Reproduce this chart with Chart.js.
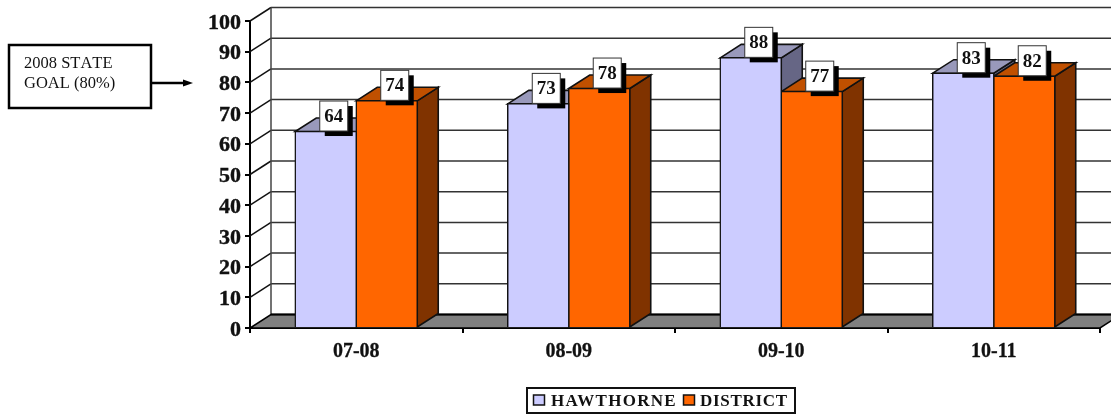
<!DOCTYPE html>
<html lang="en">

<head>
  <meta charset="UTF-8" />
  <title>2008 State Goal</title>
  <script src="https://cdn.jsdelivr.net/npm/chart.js@4/dist/chart.umd.min.js"></script>
  <style>
    html, body { margin: 0; padding: 0; background: #fff; }
    #wrap { position: relative; width: 1111px; height: 415px; overflow: hidden; }
  </style>
</head>

<body>
  <div id="wrap"><canvas id="goalChart" width="1111" height="415"></canvas></div>

  <script>
    const categories = ["07-08", "08-09", "09-10", "10-11"];
    const hawthorne = [64, 73, 88, 83];
    const district = [74, 78, 77, 82];
    const seriesNames = ["HAWTHORNE", "DISTRICT"];
    const goalLines = ["2008 STATE", "GOAL (80%)"];

    const depthX = 21;
    const depthY = 13.5;
    const serif = '"Liberation Serif", "Times New Roman", serif';
    const faces = [
      { front: "#ccccff", top: "#9999bb", side: "#666685" },
      { front: "#ff6600", top: "#c05000", side: "#803300" },
    ];

    function poly(ctx, pts, fill, stroke, width) {
      ctx.beginPath();
      pts.forEach((p, i) => (i ? ctx.lineTo(p[0], p[1]) : ctx.moveTo(p[0], p[1])));
      ctx.closePath();
      if (fill) { ctx.fillStyle = fill; ctx.fill(); }
      if (stroke) { ctx.strokeStyle = stroke; ctx.lineWidth = width; ctx.stroke(); }
    }

    function line(ctx, x1, y1, x2, y2, color, width) {
      ctx.beginPath();
      ctx.moveTo(x1, y1);
      ctx.lineTo(x2, y2);
      ctx.strokeStyle = color;
      ctx.lineWidth = width;
      ctx.stroke();
    }

    const wallPlugin = {
      id: "walls",
      beforeDatasetsDraw(chart) {
        const { ctx, chartArea: area, scales } = chart;
        const y = scales.y;
        const zero = y.getPixelForValue(0);
        ctx.save();
        // back wall, side wall and floor of the 3d box
        y.ticks.forEach((t) => {
          const py = y.getPixelForValue(t.value);
          if (t.value > 0) {
            line(ctx, area.left, py, area.left + depthX, py - depthY, "#111", 1.5);
            line(ctx, area.left + depthX, py - depthY, area.right + depthX, py - depthY, "#333", 1.5);
          }
        });
        line(ctx, area.left + depthX, y.getPixelForValue(100) - depthY, area.left + depthX, zero - depthY, "#444", 1.5);
        poly(ctx, [
          [area.left, zero],
          [area.right, zero],
          [area.right + depthX, zero - depthY],
          [area.left + depthX, zero - depthY],
        ], "#808080", "#000", 1.5);
        line(ctx, area.left + depthX, zero - depthY, area.right + depthX, zero - depthY, "#000", 2);

        // top and side faces go under the front faces the library draws next
        chart.data.datasets.forEach((ds, i) => {
          const c = faces[i];
          chart.getDatasetMeta(i).data.forEach((bar) => {
            const l = bar.x - bar.width / 2;
            const r = bar.x + bar.width / 2;
            poly(ctx, [[r, bar.y], [r + depthX, bar.y - depthY], [r + depthX, bar.base - depthY], [r, bar.base]], c.side, "#111", 1.6);
            poly(ctx, [[l, bar.y], [l + depthX, bar.y - depthY], [r + depthX, bar.y - depthY], [r, bar.y]], c.top, "#111", 1.6);
          });
        });
        ctx.restore();
      },
      afterDatasetsDraw(chart) {
        const { ctx } = chart;
        ctx.save();
        // data labels with the hard shadow
        chart.data.datasets.forEach((ds, i) => {
          chart.getDatasetMeta(i).data.forEach((bar, j) => {
            const cx = bar.x + 8;
            const cy = bar.y - 15.5;
            ctx.fillStyle = "#000";
            ctx.fillRect(cx - 14 + 5, cy - 15 + 5, 28, 30);
            ctx.fillStyle = "#fff";
            ctx.fillRect(cx - 14, cy - 15, 28, 30);
            ctx.strokeStyle = "#333";
            ctx.lineWidth = 1;
            ctx.strokeRect(cx - 14, cy - 15, 28, 30);
            ctx.fillStyle = "#111";
            ctx.font = "bold 19px " + serif;
            ctx.textAlign = "center";
            ctx.textBaseline = "middle";
            ctx.fillText(ds.data[j], cx, cy + 1);
          });
        });

        // legend box
        ctx.strokeStyle = "#111";
        ctx.lineWidth = 2;
        ctx.strokeRect(527, 388, 268, 25);
        ctx.textAlign = "left";
        ctx.textBaseline = "alphabetic";
        ctx.font = "bold 17px " + serif;
        [[533.5, 551, "1.3px"], [683.5, 700, "0.7px"]].forEach((pos, i) => {
          ctx.fillStyle = faces[i].front;
          ctx.fillRect(pos[0], 395, 11, 10);
          ctx.strokeStyle = "#111";
          ctx.lineWidth = 1.5;
          ctx.strokeRect(pos[0], 395, 11, 10);
          ctx.fillStyle = "#111";
          ctx.letterSpacing = pos[2];
          ctx.fillText(seriesNames[i], pos[1], 406);
        });
        ctx.letterSpacing = "0px";

        // goal note and arrow
        ctx.strokeStyle = "#000";
        ctx.lineWidth = 2.5;
        ctx.strokeRect(9, 45, 142, 63);
        ctx.fillStyle = "#111";
        ctx.font = "16.5px " + serif;
        ctx.fontKerning = "none";
        goalLines.forEach((t, i) => ctx.fillText(t, 24, 68 + i * 20));
        ctx.fontKerning = "auto";
        line(ctx, 152, 83, 184, 83, "#000", 2.5);
        poly(ctx, [[183, 79.5], [193, 83], [183, 86.5]], "#000");
        ctx.restore();
      },
    };

    new Chart(document.getElementById("goalChart"), {
      type: "bar",
      data: {
        labels: categories,
        datasets: [
          { label: seriesNames[0], data: hawthorne, backgroundColor: faces[0].front, borderColor: "#111", borderWidth: 1.5, inflateAmount: 0.8 },
          { label: seriesNames[1], data: district, backgroundColor: faces[1].front, borderColor: "#111", borderWidth: 1.5, inflateAmount: 0.8 },
        ],
      },
      options: {
        responsive: false,
        animation: false,
        layout: { padding: { top: 21, right: 11, left: 0, bottom: 0 } },
        categoryPercentage: 0.574,
        barPercentage: 1,
        plugins: { legend: { display: false }, tooltip: { enabled: false } },
        scales: {
          x: {
            afterFit(s) { s.height = 87; },
            grid: { drawOnChartArea: false, color: "#000", tickLength: 5, lineWidth: 2 },
            border: { color: "#000", width: 2 },
            ticks: { color: "#111", font: { family: serif, size: 20, weight: "bold" }, padding: 7, maxRotation: 0, textStrokeColor: "#111", textStrokeWidth: 0.3 },
          },
          y: {
            min: 0,
            max: 100,
            afterFit(s) { s.width = 250; },
            grid: { drawOnChartArea: false, color: "#000", tickLength: 5, lineWidth: 2 },
            border: { color: "#000", width: 2 },
            ticks: { stepSize: 10, color: "#111", font: { family: serif, size: 22, weight: "bold" }, padding: 4, labelOffset: 2, textStrokeColor: "#111", textStrokeWidth: 0.4 },
          },
        },
      },
      plugins: [wallPlugin],
    });
  </script>
</body>

</html>
